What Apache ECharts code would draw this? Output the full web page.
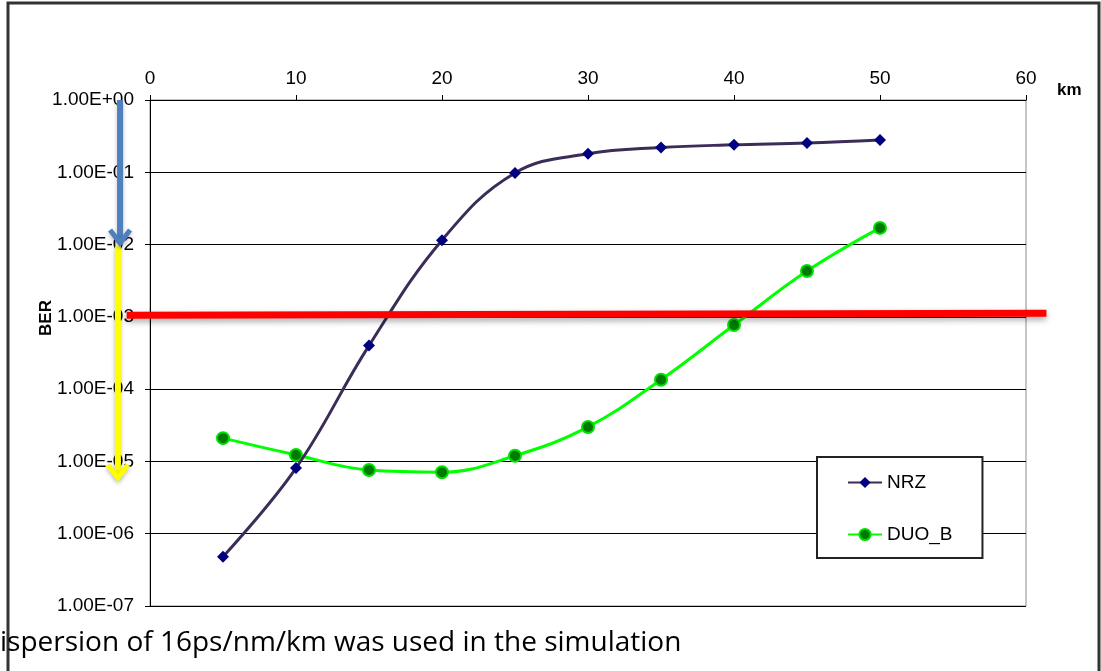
<!DOCTYPE html>
<html>
<head>
<meta charset="utf-8">
<script src="https://cdn.jsdelivr.net/npm/echarts@6/dist/echarts.min.js"></script>
<style>
  html, body { margin: 0; padding: 0; background: #fff; }
  #chart { width: 1101px; height: 671px; }
</style>
</head>
<body>
<div id="chart"></div>
<script>
// distance in km
var distance = [5, 10, 15, 20, 25, 30, 35, 40, 45, 50];
// BER values
var nrz = [4.8e-7, 8.1e-6, 4.0e-4, 1.15e-2, 0.098, 0.18, 0.22, 0.24, 0.254, 0.28];
var duoB = [2.1e-5, 1.23e-5, 7.6e-6, 7.1e-6, 1.2e-5, 3.0e-5, 1.35e-4, 7.7e-4, 4.3e-3, 1.7e-2];

// annotations: BER threshold line and the two arrows on the left (km, BER)
var thresholdLine = [[-1.6, 1.05e-3], [61.4, 1.12e-3]];
var blueArrow = [[-2.05, 1], [-2.05, 1.05e-2]];
var yellowArrow = [[-2.2, 0.95e-2], [-2.2, 5.9e-6]];

var xTicks = { min: 0, max: 60, step: 10 };
var yRange = { min: 1e-7, max: 1 };

function pairs(xs, ys) {
    return xs.map(function (x, i) { return [x, ys[i]]; });
}

function sciLabel(v) {
    var e = Math.round(Math.log10(v));
    var a = Math.abs(e);
    return '1.00E' + (e < 0 ? '-' : '+') + (a < 10 ? '0' : '') + a;
}

var myChart = echarts.init(document.getElementById('chart'));

var graphics = [
    {
        type: 'rect', z: -10, silent: true,
        shape: { x: 8, y: 3, width: 1091, height: 700 },
        style: { fill: 'none', stroke: '#333', lineWidth: 3 }
    },
    {
        type: 'text', left: 1057, top: 82,
        style: { text: 'km', font: 'bold 17px "Liberation Sans"', fill: '#000' }
    },
    {
        type: 'text', x: 46, y: 318, rotation: Math.PI / 2,
        style: {
            text: 'BER', font: 'bold 17px "Liberation Sans"', fill: '#000',
            align: 'center', verticalAlign: 'middle'
        }
    },
    {
        type: 'text', x: 0, y: 643,
        style: {
            text: 'ispersion of 16ps/nm/km was used in the simulation',
            font: '28px "Open Sans"', fill: '#000', verticalAlign: 'middle'
        }
    }
];

var option = {
    backgroundColor: '#fff',
    animation: false,
    grid: {
        left: 150,
        top: 100,
        right: 75,
        bottom: 65,
        show: true,
        borderColor: '#8c8c8c',
        borderWidth: 1
    },
    legend: {
        data: ['NRZ', 'DUO_B'],
        orient: 'vertical',
        left: 817,
        top: 457,
        padding: [16, 30, 14, 30],
        itemGap: 33,
        itemWidth: 34,
        itemHeight: 14,
        backgroundColor: '#fff',
        borderColor: '#222',
        borderWidth: 2,
        textStyle: { fontFamily: 'Liberation Sans', fontSize: 19, color: '#000' }
    },
    xAxis: {
        type: 'value',
        position: 'top',
        min: xTicks.min,
        max: xTicks.max,
        interval: xTicks.step,
        axisLine: { lineStyle: { color: '#000', width: 1 } },
        axisTick: { show: true, length: 5, lineStyle: { color: '#000' } },
        axisLabel: { fontFamily: 'Liberation Sans', fontSize: 19, color: '#000', margin: 12 },
        splitLine: { show: false }
    },
    yAxis: {
        type: 'log',
        logBase: 10,
        min: yRange.min,
        max: yRange.max,
        axisLine: { show: true, lineStyle: { color: '#000', width: 1 } },
        axisTick: { show: true, length: 5, lineStyle: { color: '#000' } },
        axisLabel: {
            fontFamily: 'Liberation Sans', fontSize: 19, color: '#000', margin: 16,
            formatter: sciLabel
        },
        splitLine: { show: true, lineStyle: { color: '#000', width: 1 } },
        minorTick: { show: false }
    },
    graphic: graphics,
    series: [
        {
            name: 'NRZ',
            type: 'line',
            smooth: 0.4,
            data: pairs(distance, nrz),
            symbol: 'diamond',
            symbolSize: 12,
            itemStyle: { color: '#000080' },
            lineStyle: { color: '#3b2d57', width: 3 },
            z: 3
        },
        {
            name: 'DUO_B',
            type: 'line',
            smooth: 0.4,
            data: pairs(distance, duoB),
            symbol: 'circle',
            symbolSize: 12,
            itemStyle: { color: '#007a00', borderColor: '#00e000', borderWidth: 2 },
            lineStyle: { color: '#00ff00', width: 3 },
            z: 2
        }
    ]
};

myChart.setOption(option);

// annotations go outside the plot area, so place them through the axes' scales
function px(p) {
    return myChart.convertToPixel({ gridIndex: 0 }, p);
}

function arrow(pts, color) {
    var a = px(pts[0]), b = px(pts[1]);
    var shadow = { shadowColor: 'rgba(0,0,0,0.25)', shadowBlur: 4, shadowOffsetY: 2 };
    return [
        {
            type: 'line', silent: true, z: 20,
            shape: { x1: a[0], y1: a[1], x2: b[0], y2: b[1] - 2 },
            style: Object.assign({ stroke: color, lineWidth: 6 }, shadow)
        },
        {
            type: 'polyline', silent: true, z: 21,
            shape: { points: [[b[0] - 10, b[1] - 13], [b[0], b[1]], [b[0] + 10, b[1] - 13]] },
            style: Object.assign({ stroke: color, lineWidth: 5, fill: 'none', lineJoin: 'miter' }, shadow)
        }
    ];
}

var t0 = px(thresholdLine[0]), t1 = px(thresholdLine[1]);
graphics = graphics.concat([
    {
        type: 'line', silent: true, z: 19,
        shape: { x1: t0[0], y1: t0[1], x2: t1[0], y2: t1[1] },
        style: { stroke: '#ff0000', lineWidth: 7,
            shadowColor: 'rgba(0,0,0,0.35)', shadowBlur: 6, shadowOffsetY: 3 }
    }
], arrow(yellowArrow, '#ffff00'), arrow(blueArrow, '#4f7fbd'));

myChart.setOption({ graphic: graphics });
</script>
</body>
</html>
